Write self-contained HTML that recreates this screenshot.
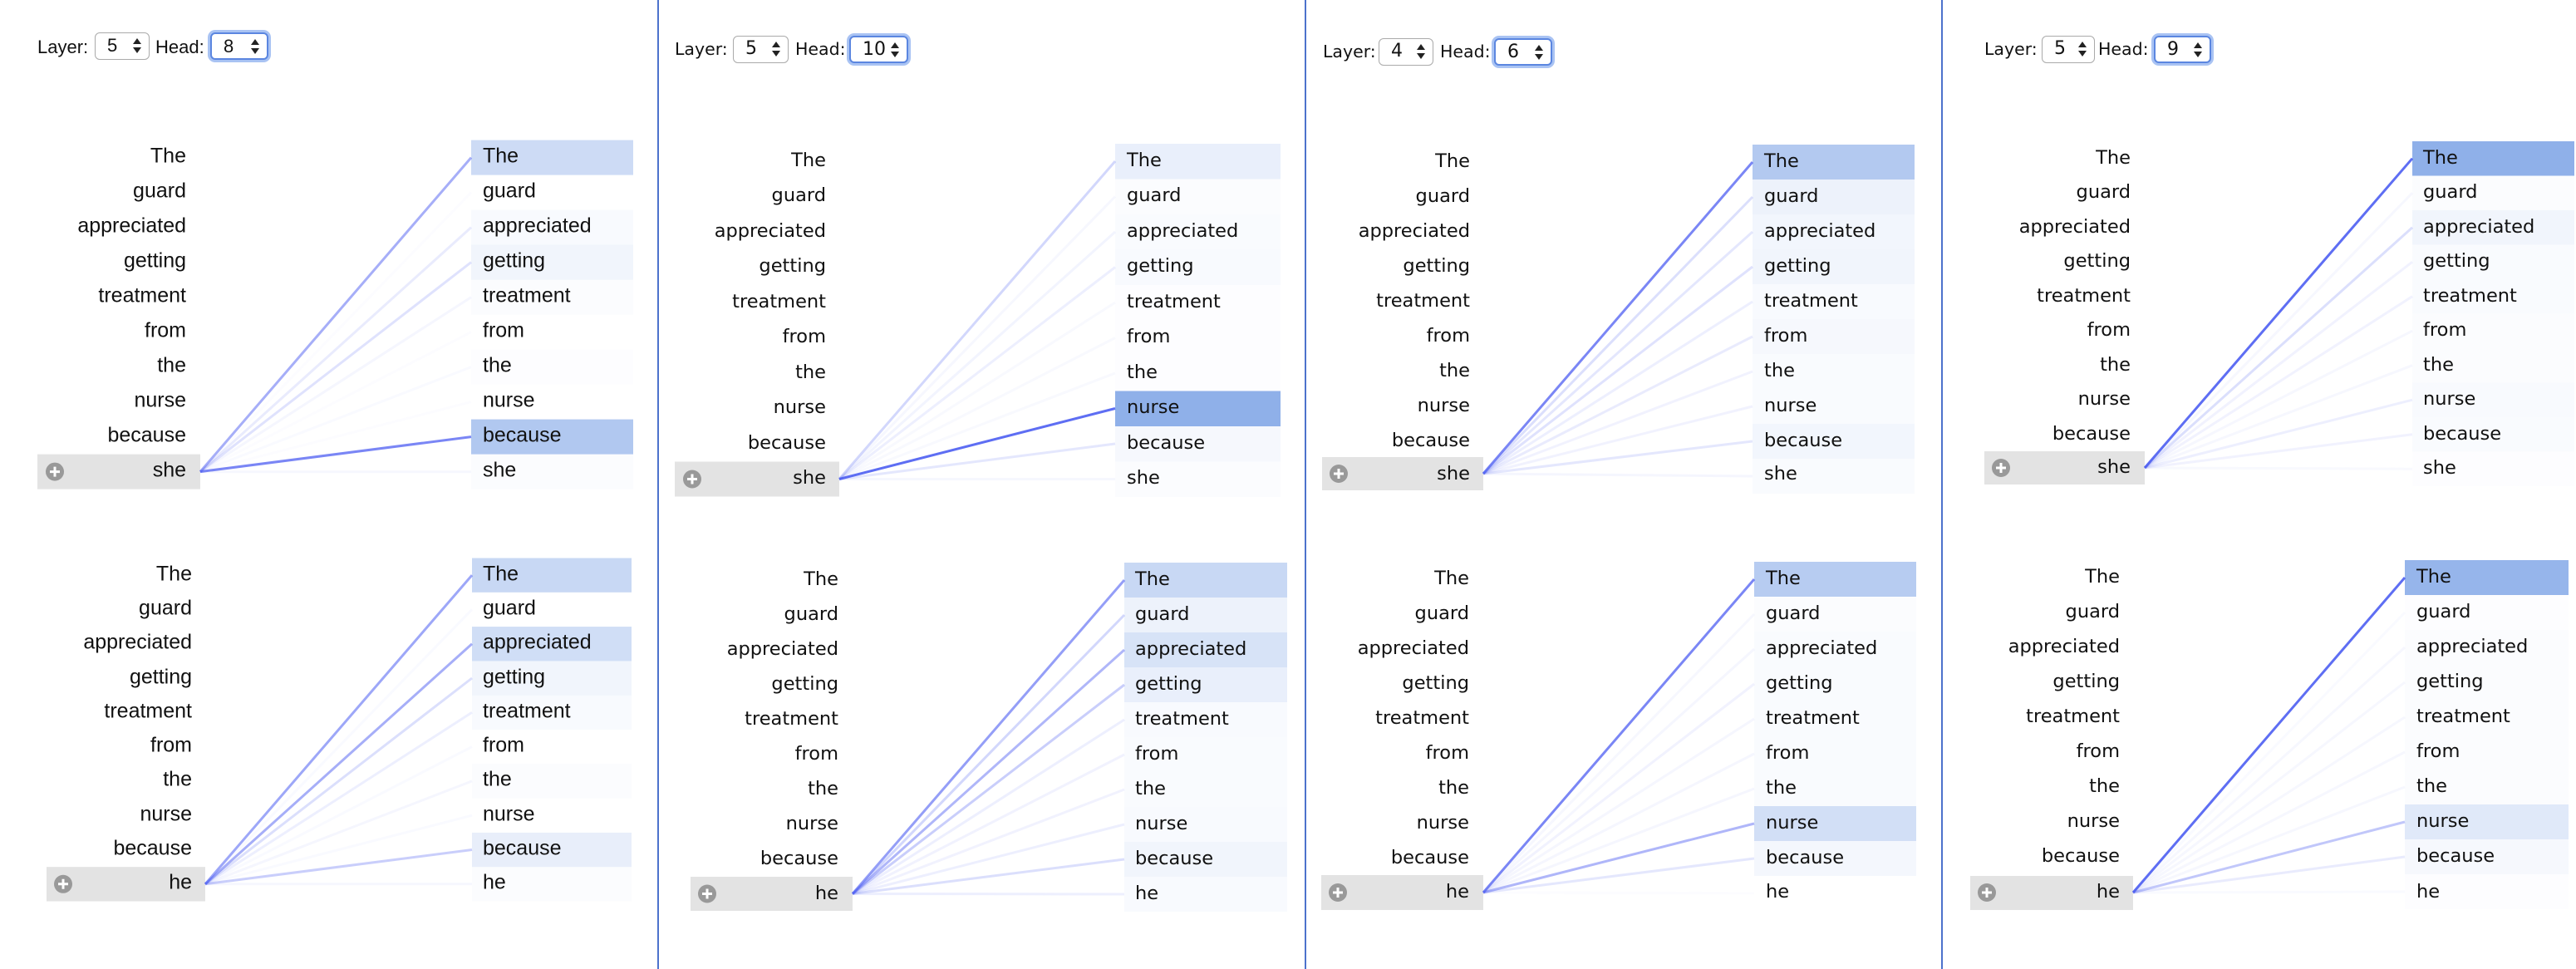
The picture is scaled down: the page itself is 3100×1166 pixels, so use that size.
<!DOCTYPE html>
<html><head><meta charset="utf-8"><style>
html,body{margin:0;padding:0;background:#fff;}
body{width:3100px;height:1166px;position:relative;overflow:hidden;font-family:"Liberation Sans",sans-serif;}
.lbl{position:absolute;font-size:22px;color:#111;}
.p2{font-family:"DejaVu Sans",sans-serif;font-size:20.5px;}
.sel{position:absolute;box-sizing:border-box;border:1.5px solid #aaa;border-radius:6px;background:#fff;height:33px;font-size:22px;line-height:30px;padding-left:14px;color:#111;}
.sel.f{border:2px solid #5b86e0;box-shadow:0 0 0 3px #a9c3f3;}
.sel:after{content:"";position:absolute;right:9px;top:6px;border:5px solid transparent;border-bottom:7px solid #222;border-top:0;}
.sel:before{content:"";position:absolute;right:9px;top:17px;border:5px solid transparent;border-top:7px solid #222;border-bottom:0;}
.div{position:absolute;top:0;width:2px;height:1166px;background:#4d72cc;}
svg{position:absolute;left:0;top:0;}
.a text{font-family:"Liberation Sans",sans-serif;font-size:25px;fill:#111;transform:translateY(-3px);}
.b text{font-family:"DejaVu Sans",sans-serif;font-size:22.5px;fill:#111;transform:translateY(-2px);}
.l{text-anchor:end;}
</style></head><body>
<div class="div" style="left:791px"></div>
<div class="div" style="left:1570px"></div>
<div class="div" style="left:2336px"></div>

<div class="lbl" style="left:45px;top:44px">Layer:</div>
<div class="sel" style="left:114px;top:39px;width:66px">5</div>
<div class="lbl" style="left:187px;top:44px">Head:</div>
<div class="sel f" style="left:253px;top:39px;width:70px">8</div>

<div class="lbl p2" style="left:812px;top:47px">Layer:</div>
<div class="sel p2" style="left:882px;top:43px;width:67px">5</div>
<div class="lbl p2" style="left:957px;top:47px">Head:</div>
<div class="sel f p2" style="left:1022px;top:43px;width:71px">10</div>

<div class="lbl p2" style="left:1592px;top:50px">Layer:</div>
<div class="sel p2" style="left:1659px;top:46px;width:66px">4</div>
<div class="lbl p2" style="left:1733px;top:50px">Head:</div>
<div class="sel f p2" style="left:1798px;top:46px;width:70px">6</div>

<div class="lbl p2" style="left:2388px;top:47px">Layer:</div>
<div class="sel p2" style="left:2457px;top:43px;width:64px">5</div>
<div class="lbl p2" style="left:2525px;top:47px">Head:</div>
<div class="sel f p2" style="left:2592px;top:43px;width:69px">9</div>

<svg width="3100" height="1166" viewBox="0 0 3100 1166">

<!-- D1 -->
<g class="a" transform="translate(45,168.6)">
<g fill="#4a7fdc">
<rect x="522" y="0" width="195" height="42" fill-opacity=".28"/><rect x="522" y="84" width="195" height="42" fill-opacity=".04"/><rect x="522" y="126" width="195" height="42" fill-opacity=".08"/><rect x="522" y="168" width="195" height="42" fill-opacity=".02"/><rect x="522" y="252" width="195" height="42" fill-opacity=".01"/><rect x="522" y="336" width="195" height="42" fill-opacity=".43"/><rect x="522" y="378" width="195" height="42" fill-opacity=".02"/>
</g>
<rect x="0" y="378" width="196" height="42" fill="#e3e3e3"/>
<circle cx="21" cy="399" r="11" fill="#999"/><path d="M15 399h12M21 393v12" stroke="#fff" stroke-width="3"/>
<g stroke="#4d5ef2" stroke-width="3">
<line x1="196" y1="399" x2="522" y2="21" stroke-opacity=".5"/><line x1="196" y1="399" x2="522" y2="63" stroke-opacity=".02"/><line x1="196" y1="399" x2="522" y2="105" stroke-opacity=".12"/><line x1="196" y1="399" x2="522" y2="147" stroke-opacity=".18"/><line x1="196" y1="399" x2="522" y2="189" stroke-opacity=".06"/><line x1="196" y1="399" x2="522" y2="231" stroke-opacity=".02"/><line x1="196" y1="399" x2="522" y2="273" stroke-opacity=".03"/><line x1="196" y1="399" x2="522" y2="315" stroke-opacity=".02"/><line x1="196" y1="399" x2="522" y2="357" stroke-opacity=".75"/><line x1="196" y1="399" x2="522" y2="399" stroke-opacity=".05"/>
</g>
<text class="l" x="179" y="30">The</text><text class="l" x="179" y="72">guard</text><text class="l" x="179" y="114">appreciated</text><text class="l" x="179" y="156">getting</text><text class="l" x="179" y="198">treatment</text><text class="l" x="179" y="240">from</text><text class="l" x="179" y="282">the</text><text class="l" x="179" y="324">nurse</text><text class="l" x="179" y="366">because</text><text class="l" x="179" y="408">she</text>
<text x="536" y="30">The</text><text x="536" y="72">guard</text><text x="536" y="114">appreciated</text><text x="536" y="156">getting</text><text x="536" y="198">treatment</text><text x="536" y="240">from</text><text x="536" y="282">the</text><text x="536" y="324">nurse</text><text x="536" y="366">because</text><text x="536" y="408">she</text>
</g>

<!-- D2 -->
<g class="a" transform="translate(56,671.5)">
<g fill="#4a7fdc">
<rect x="512" y="0" width="192" height="41.3" fill-opacity=".3"/><rect x="512" y="82.6" width="192" height="41.3" fill-opacity=".26"/><rect x="512" y="123.9" width="192" height="41.3" fill-opacity=".08"/><rect x="512" y="165.2" width="192" height="41.3" fill-opacity=".04"/><rect x="512" y="247.8" width="192" height="41.3" fill-opacity=".02"/><rect x="512" y="330.4" width="192" height="41.3" fill-opacity=".13"/><rect x="512" y="371.7" width="192" height="41.3" fill-opacity=".02"/>
</g>
<rect x="0" y="371.7" width="191" height="41.3" fill="#e3e3e3"/>
<circle cx="20" cy="392.3" r="11" fill="#999"/><path d="M14 392.3h12M20 386.3v12" stroke="#fff" stroke-width="3"/>
<g stroke="#4d5ef2" stroke-width="3">
<line x1="191" y1="392.3" x2="512" y2="20.6" stroke-opacity=".55"/><line x1="191" y1="392.3" x2="512" y2="61.9" stroke-opacity=".03"/><line x1="191" y1="392.3" x2="512" y2="103.2" stroke-opacity=".5"/><line x1="191" y1="392.3" x2="512" y2="144.5" stroke-opacity=".2"/><line x1="191" y1="392.3" x2="512" y2="185.8" stroke-opacity=".1"/><line x1="191" y1="392.3" x2="512" y2="227.1" stroke-opacity=".03"/><line x1="191" y1="392.3" x2="512" y2="268.4" stroke-opacity=".06"/><line x1="191" y1="392.3" x2="512" y2="309.7" stroke-opacity=".03"/><line x1="191" y1="392.3" x2="512" y2="351" stroke-opacity=".3"/><line x1="191" y1="392.3" x2="512" y2="392.3" stroke-opacity=".05"/>
</g>
<text class="l" x="175" y="30">The</text><text class="l" x="175" y="71">guard</text><text class="l" x="175" y="112">appreciated</text><text class="l" x="175" y="154">getting</text><text class="l" x="175" y="195">treatment</text><text class="l" x="175" y="236">from</text><text class="l" x="175" y="277">the</text><text class="l" x="175" y="319">nurse</text><text class="l" x="175" y="360">because</text><text class="l" x="175" y="401">he</text>
<text x="525" y="30">The</text><text x="525" y="71">guard</text><text x="525" y="112">appreciated</text><text x="525" y="154">getting</text><text x="525" y="195">treatment</text><text x="525" y="236">from</text><text x="525" y="277">the</text><text x="525" y="319">nurse</text><text x="525" y="360">because</text><text x="525" y="401">he</text>
</g>

<!-- D3 -->
<g class="b" transform="translate(812,173)">
<g fill="#4a7fdc">
<rect x="530" y="0" width="199" height="42.5" fill-opacity=".12"/><rect x="530" y="42.5" width="199" height="42.5" fill-opacity=".02"/><rect x="530" y="85" width="199" height="42.5" fill-opacity=".03"/><rect x="530" y="127.5" width="199" height="42.5" fill-opacity=".04"/><rect x="530" y="170" width="199" height="42.5" fill-opacity=".01"/><rect x="530" y="212.5" width="199" height="42.5" fill-opacity=".01"/><rect x="530" y="255" width="199" height="42.5" fill-opacity=".01"/><rect x="530" y="297.5" width="199" height="42.5" fill-opacity=".62"/><rect x="530" y="340" width="199" height="42.5" fill-opacity=".05"/><rect x="530" y="382.5" width="199" height="42.5" fill-opacity=".02"/>
</g>
<rect x="0" y="382.5" width="198" height="42" fill="#e3e3e3"/>
<circle cx="21" cy="403.5" r="11" fill="#999"/><path d="M15 403.5h12M21 397.5v12" stroke="#fff" stroke-width="3"/>
<g stroke="#4d5ef2" stroke-width="3">
<line x1="198" y1="403.5" x2="530" y2="21" stroke-opacity=".25"/><line x1="198" y1="403.5" x2="530" y2="63.5" stroke-opacity=".05"/><line x1="198" y1="403.5" x2="530" y2="106" stroke-opacity=".07"/><line x1="198" y1="403.5" x2="530" y2="148.5" stroke-opacity=".1"/><line x1="198" y1="403.5" x2="530" y2="191" stroke-opacity=".04"/><line x1="198" y1="403.5" x2="530" y2="233.5" stroke-opacity=".04"/><line x1="198" y1="403.5" x2="530" y2="276" stroke-opacity=".04"/><line x1="198" y1="403.5" x2="530" y2="318.5" stroke-opacity=".9"/><line x1="198" y1="403.5" x2="530" y2="361" stroke-opacity=".15"/><line x1="198" y1="403.5" x2="530" y2="403.5" stroke-opacity=".05"/>
</g>
<text class="l" x="182" y="29">The</text><text class="l" x="182" y="71">guard</text><text class="l" x="182" y="114">appreciated</text><text class="l" x="182" y="156">getting</text><text class="l" x="182" y="199">treatment</text><text class="l" x="182" y="241">from</text><text class="l" x="182" y="284">the</text><text class="l" x="182" y="326">nurse</text><text class="l" x="182" y="369">because</text><text class="l" x="182" y="411">she</text>
<text x="544" y="29">The</text><text x="544" y="71">guard</text><text x="544" y="114">appreciated</text><text x="544" y="156">getting</text><text x="544" y="199">treatment</text><text x="544" y="241">from</text><text x="544" y="284">the</text><text x="544" y="326">nurse</text><text x="544" y="369">because</text><text x="544" y="411">she</text>
</g>

<!-- D4 -->
<g class="b" transform="translate(831,677)">
<g fill="#4a7fdc">
<rect x="522" y="0" width="196" height="42" fill-opacity=".3"/><rect x="522" y="42" width="196" height="42" fill-opacity=".1"/><rect x="522" y="84" width="196" height="42" fill-opacity=".22"/><rect x="522" y="126" width="196" height="42" fill-opacity=".12"/><rect x="522" y="168" width="196" height="42" fill-opacity=".04"/><rect x="522" y="210" width="196" height="42" fill-opacity=".03"/><rect x="522" y="252" width="196" height="42" fill-opacity=".03"/><rect x="522" y="294" width="196" height="42" fill-opacity=".04"/><rect x="522" y="336" width="196" height="42" fill-opacity=".08"/><rect x="522" y="378" width="196" height="42" fill-opacity=".04"/>
</g>
<rect x="0" y="378" width="195" height="41" fill="#e3e3e3"/>
<circle cx="20" cy="398.5" r="11" fill="#999"/><path d="M14 398.5h12M20 392.5v12" stroke="#fff" stroke-width="3"/>
<g stroke="#4d5ef2" stroke-width="3">
<line x1="195" y1="398.5" x2="522" y2="21" stroke-opacity=".6"/><line x1="195" y1="398.5" x2="522" y2="63" stroke-opacity=".25"/><line x1="195" y1="398.5" x2="522" y2="105" stroke-opacity=".45"/><line x1="195" y1="398.5" x2="522" y2="147" stroke-opacity=".3"/><line x1="195" y1="398.5" x2="522" y2="189" stroke-opacity=".1"/><line x1="195" y1="398.5" x2="522" y2="231" stroke-opacity=".08"/><line x1="195" y1="398.5" x2="522" y2="273" stroke-opacity=".08"/><line x1="195" y1="398.5" x2="522" y2="315" stroke-opacity=".1"/><line x1="195" y1="398.5" x2="522" y2="357" stroke-opacity=".2"/><line x1="195" y1="398.5" x2="522" y2="399" stroke-opacity=".1"/>
</g>
<text class="l" x="178" y="29">The</text><text class="l" x="178" y="71">guard</text><text class="l" x="178" y="113">appreciated</text><text class="l" x="178" y="155">getting</text><text class="l" x="178" y="197">treatment</text><text class="l" x="178" y="239">from</text><text class="l" x="178" y="281">the</text><text class="l" x="178" y="323">nurse</text><text class="l" x="178" y="365">because</text><text class="l" x="178" y="407">he</text>
<text x="535" y="29">The</text><text x="535" y="71">guard</text><text x="535" y="113">appreciated</text><text x="535" y="155">getting</text><text x="535" y="197">treatment</text><text x="535" y="239">from</text><text x="535" y="281">the</text><text x="535" y="323">nurse</text><text x="535" y="365">because</text><text x="535" y="407">he</text>
</g>

<!-- D5 -->
<g class="b" transform="translate(1591,174)">
<g fill="#4a7fdc">
<rect x="518" y="0" width="195" height="42" fill-opacity=".42"/><rect x="518" y="42" width="195" height="42" fill-opacity=".1"/><rect x="518" y="84" width="195" height="42" fill-opacity=".07"/><rect x="518" y="126" width="195" height="42" fill-opacity=".08"/><rect x="518" y="168" width="195" height="42" fill-opacity=".04"/><rect x="518" y="210" width="195" height="42" fill-opacity=".05"/><rect x="518" y="252" width="195" height="42" fill-opacity=".03"/><rect x="518" y="294" width="195" height="42" fill-opacity=".03"/><rect x="518" y="336" width="195" height="42" fill-opacity=".07"/><rect x="518" y="378" width="195" height="42" fill-opacity=".03"/>
</g>
<rect x="0" y="376" width="194" height="40" fill="#e3e3e3"/>
<circle cx="20" cy="396" r="11" fill="#999"/><path d="M14 396h12M20 390v12" stroke="#fff" stroke-width="3"/>
<g stroke="#4d5ef2" stroke-width="3">
<line x1="194" y1="396" x2="518" y2="21" stroke-opacity=".75"/><line x1="194" y1="396" x2="518" y2="63" stroke-opacity=".2"/><line x1="194" y1="396" x2="518" y2="105" stroke-opacity=".15"/><line x1="194" y1="396" x2="518" y2="147" stroke-opacity=".18"/><line x1="194" y1="396" x2="518" y2="189" stroke-opacity=".1"/><line x1="194" y1="396" x2="518" y2="231" stroke-opacity=".12"/><line x1="194" y1="396" x2="518" y2="273" stroke-opacity=".08"/><line x1="194" y1="396" x2="518" y2="315" stroke-opacity=".08"/><line x1="194" y1="396" x2="518" y2="357" stroke-opacity=".15"/><line x1="194" y1="396" x2="518" y2="399" stroke-opacity=".06"/>
</g>
<text class="l" x="178" y="29">The</text><text class="l" x="178" y="71">guard</text><text class="l" x="178" y="113">appreciated</text><text class="l" x="178" y="155">getting</text><text class="l" x="178" y="197">treatment</text><text class="l" x="178" y="239">from</text><text class="l" x="178" y="281">the</text><text class="l" x="178" y="323">nurse</text><text class="l" x="178" y="365">because</text><text class="l" x="178" y="405">she</text>
<text x="532" y="29">The</text><text x="532" y="71">guard</text><text x="532" y="113">appreciated</text><text x="532" y="155">getting</text><text x="532" y="197">treatment</text><text x="532" y="239">from</text><text x="532" y="281">the</text><text x="532" y="323">nurse</text><text x="532" y="365">because</text><text x="532" y="405">she</text>
</g>

<!-- D6 -->
<g class="b" transform="translate(1590,676)">
<g fill="#4a7fdc">
<rect x="521" y="0" width="195" height="42" fill-opacity=".4"/><rect x="521" y="42" width="195" height="42" fill-opacity=".02"/><rect x="521" y="84" width="195" height="42" fill-opacity=".03"/><rect x="521" y="126" width="195" height="42" fill-opacity=".03"/><rect x="521" y="168" width="195" height="42" fill-opacity=".03"/><rect x="521" y="210" width="195" height="42" fill-opacity=".03"/><rect x="521" y="252" width="195" height="42" fill-opacity=".03"/><rect x="521" y="294" width="195" height="42" fill-opacity=".25"/><rect x="521" y="336" width="195" height="42" fill-opacity=".06"/>
</g>
<rect x="0" y="377" width="195" height="42" fill="#e3e3e3"/>
<circle cx="20" cy="398" r="11" fill="#999"/><path d="M14 398h12M20 392v12" stroke="#fff" stroke-width="3"/>
<g stroke="#4d5ef2" stroke-width="3">
<line x1="195" y1="398" x2="521" y2="21" stroke-opacity=".75"/><line x1="195" y1="398" x2="521" y2="63" stroke-opacity=".05"/><line x1="195" y1="398" x2="521" y2="105" stroke-opacity=".06"/><line x1="195" y1="398" x2="521" y2="147" stroke-opacity=".08"/><line x1="195" y1="398" x2="521" y2="189" stroke-opacity=".06"/><line x1="195" y1="398" x2="521" y2="231" stroke-opacity=".06"/><line x1="195" y1="398" x2="521" y2="273" stroke-opacity=".06"/><line x1="195" y1="398" x2="521" y2="315" stroke-opacity=".45"/><line x1="195" y1="398" x2="521" y2="357" stroke-opacity=".15"/><line x1="195" y1="398" x2="521" y2="399" stroke-opacity=".02"/>
</g>
<text class="l" x="178" y="29">The</text><text class="l" x="178" y="71">guard</text><text class="l" x="178" y="113">appreciated</text><text class="l" x="178" y="155">getting</text><text class="l" x="178" y="197">treatment</text><text class="l" x="178" y="239">from</text><text class="l" x="178" y="281">the</text><text class="l" x="178" y="323">nurse</text><text class="l" x="178" y="365">because</text><text class="l" x="178" y="406">he</text>
<text x="535" y="29">The</text><text x="535" y="71">guard</text><text x="535" y="113">appreciated</text><text x="535" y="155">getting</text><text x="535" y="197">treatment</text><text x="535" y="239">from</text><text x="535" y="281">the</text><text x="535" y="323">nurse</text><text x="535" y="365">because</text><text x="535" y="406">he</text>
</g>

<!-- D7 -->
<g class="b" transform="translate(2388,170)">
<g fill="#4a7fdc">
<rect x="515" y="0" width="195" height="41.5" fill-opacity=".62"/><rect x="515" y="41.5" width="195" height="41.5" fill-opacity=".02"/><rect x="515" y="83" width="195" height="41.5" fill-opacity=".08"/><rect x="515" y="124.5" width="195" height="41.5" fill-opacity=".03"/><rect x="515" y="166" width="195" height="41.5" fill-opacity=".03"/><rect x="515" y="207.5" width="195" height="41.5" fill-opacity=".02"/><rect x="515" y="249" width="195" height="41.5" fill-opacity=".02"/><rect x="515" y="290.5" width="195" height="41.5" fill-opacity=".04"/><rect x="515" y="332" width="195" height="41.5" fill-opacity=".03"/><rect x="515" y="373.5" width="195" height="41.5" fill-opacity=".01"/>
</g>
<rect x="0" y="373" width="193" height="40" fill="#e3e3e3"/>
<circle cx="20" cy="393" r="11" fill="#999"/><path d="M14 393h12M20 387v12" stroke="#fff" stroke-width="3"/>
<g stroke="#4d5ef2" stroke-width="3">
<line x1="193" y1="393" x2="515" y2="20.7" stroke-opacity=".9"/><line x1="193" y1="393" x2="515" y2="62.2" stroke-opacity=".05"/><line x1="193" y1="393" x2="515" y2="103.7" stroke-opacity=".2"/><line x1="193" y1="393" x2="515" y2="145.2" stroke-opacity=".08"/><line x1="193" y1="393" x2="515" y2="186.7" stroke-opacity=".08"/><line x1="193" y1="393" x2="515" y2="228.2" stroke-opacity=".05"/><line x1="193" y1="393" x2="515" y2="269.7" stroke-opacity=".05"/><line x1="193" y1="393" x2="515" y2="311.2" stroke-opacity=".1"/><line x1="193" y1="393" x2="515" y2="352.7" stroke-opacity=".08"/><line x1="193" y1="393" x2="515" y2="394.2" stroke-opacity=".04"/>
</g>
<text class="l" x="176" y="29">The</text><text class="l" x="176" y="70">guard</text><text class="l" x="176" y="112">appreciated</text><text class="l" x="176" y="153">getting</text><text class="l" x="176" y="195">treatment</text><text class="l" x="176" y="236">from</text><text class="l" x="176" y="278">the</text><text class="l" x="176" y="319">nurse</text><text class="l" x="176" y="361">because</text><text class="l" x="176" y="401">she</text>
<text x="528" y="29">The</text><text x="528" y="70">guard</text><text x="528" y="112">appreciated</text><text x="528" y="153">getting</text><text x="528" y="195">treatment</text><text x="528" y="236">from</text><text x="528" y="278">the</text><text x="528" y="319">nurse</text><text x="528" y="361">because</text><text x="528" y="402">she</text>
</g>

<!-- D8 -->
<g class="b" transform="translate(2371,674)">
<g fill="#4a7fdc">
<rect x="523" y="0" width="197" height="42" fill-opacity=".58"/><rect x="523" y="42" width="197" height="42" fill-opacity=".01"/><rect x="523" y="84" width="197" height="42" fill-opacity=".02"/><rect x="523" y="126" width="197" height="42" fill-opacity=".02"/><rect x="523" y="168" width="197" height="42" fill-opacity=".02"/><rect x="523" y="210" width="197" height="42" fill-opacity=".02"/><rect x="523" y="252" width="197" height="42" fill-opacity=".02"/><rect x="523" y="294" width="197" height="42" fill-opacity=".17"/><rect x="523" y="336" width="197" height="42" fill-opacity=".05"/><rect x="523" y="378" width="197" height="42" fill-opacity=".01"/>
</g>
<rect x="0" y="380" width="196" height="41" fill="#e3e3e3"/>
<circle cx="20" cy="400" r="11" fill="#999"/><path d="M14 400h12M20 394v12" stroke="#fff" stroke-width="3"/>
<g stroke="#4d5ef2" stroke-width="3">
<line x1="196" y1="400" x2="523" y2="21" stroke-opacity=".9"/><line x1="196" y1="400" x2="523" y2="63" stroke-opacity=".03"/><line x1="196" y1="400" x2="523" y2="105" stroke-opacity=".05"/><line x1="196" y1="400" x2="523" y2="147" stroke-opacity=".05"/><line x1="196" y1="400" x2="523" y2="189" stroke-opacity=".05"/><line x1="196" y1="400" x2="523" y2="231" stroke-opacity=".05"/><line x1="196" y1="400" x2="523" y2="273" stroke-opacity=".05"/><line x1="196" y1="400" x2="523" y2="315" stroke-opacity=".35"/><line x1="196" y1="400" x2="523" y2="357" stroke-opacity=".12"/><line x1="196" y1="400" x2="523" y2="399" stroke-opacity=".03"/>
</g>
<text class="l" x="180" y="29">The</text><text class="l" x="180" y="71">guard</text><text class="l" x="180" y="113">appreciated</text><text class="l" x="180" y="155">getting</text><text class="l" x="180" y="197">treatment</text><text class="l" x="180" y="239">from</text><text class="l" x="180" y="281">the</text><text class="l" x="180" y="323">nurse</text><text class="l" x="180" y="365">because</text><text class="l" x="180" y="408">he</text>
<text x="537" y="29">The</text><text x="537" y="71">guard</text><text x="537" y="113">appreciated</text><text x="537" y="155">getting</text><text x="537" y="197">treatment</text><text x="537" y="239">from</text><text x="537" y="281">the</text><text x="537" y="323">nurse</text><text x="537" y="365">because</text><text x="537" y="408">he</text>
</g>
</svg>
</body></html>
